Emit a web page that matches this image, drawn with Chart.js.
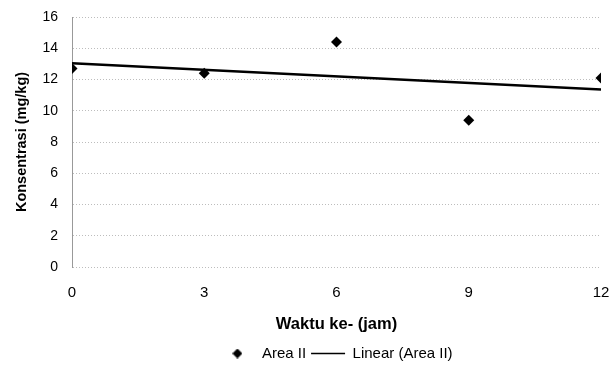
<!DOCTYPE html>
<html>
<head>
<meta charset="utf-8">
<script src="https://cdn.jsdelivr.net/npm/chart.js@4/dist/chart.umd.min.js"></script>
<style>
  html, body { margin: 0; padding: 0; background: #fff; }
  #wrap { width: 614px; height: 377px; }
</style>
</head>
<body>
<div id="wrap"><canvas id="grafik"></canvas></div>
<script>
// data pengamatan Area II
const waktu = [0, 3, 6, 9, 12];
const konsentrasi = [12.7, 12.4, 14.4, 9.4, 12.1];
// garis linear (titik awal dan akhir)
const trendX = [0, 12];
const trendY = [13.04, 11.36];
const xTicks = [0, 3, 6, 9, 12];
const yTicks = [0, 2, 4, 6, 8, 10, 12, 14, 16];

const fontFam = "'Liberation Sans', Arial, sans-serif";
const judulY = "Konsentrasi (mg/kg)";

// ikon belah ketupat untuk legenda
function ikonDiamond() {
    const c = document.createElement("canvas");
    c.width = 10; c.height = 10;
    const g = c.getContext("2d");
    g.fillStyle = "#000";
    g.beginPath();
    g.moveTo(5, 0); g.lineTo(10, 5); g.lineTo(5, 10); g.lineTo(0, 5);
    g.closePath();
    g.fill();
    return c;
}

// judul sumbu Y ditulis tegak, di tengah area grafik
const judulSumbuY = {
    id: "judulSumbuY",
    afterDraw: function(chart) {
        const area = chart.chartArea;
        const c = chart.ctx;
        c.save();
        c.translate(22, (area.top + area.bottom) / 2);
        c.rotate(-Math.PI / 2);
        c.font = "bold 14.5px " + fontFam;
        c.fillStyle = "#000";
        c.textAlign = "center";
        c.textBaseline = "middle";
        c.fillText(judulY, 0, 0);
        c.restore();
    }
};

const ctx = document.querySelector("#grafik");
new Chart(ctx, {
    type: "scatter",
    data: {
        datasets: [{
            label: "Area II",
            data: waktu.map((x, i) => ({ x: x, y: konsentrasi[i] })),
            pointStyle: "rectRot",
            pointRadius: 5.5,
            pointHoverRadius: 5.5,
            backgroundColor: "#000",
            borderColor: "#000",
            borderWidth: 0,
            order: 0
        }, {
            type: "line",
            label: "Linear (Area II)",
            data: trendX.map((x, i) => ({ x: x, y: trendY[i] })),
            borderColor: "#000",
            borderWidth: 2.5,
            pointRadius: 0,
            pointStyle: "line",
            fill: false,
            order: 1
        }]
    },
    options: {
        responsive: true,
        maintainAspectRatio: false,
        animation: false,
        layout: { padding: { left: 0, right: 0, top: 17, bottom: 6 } },
        plugins: {
            tooltip: { enabled: false },
            legend: {
                position: "bottom",
                fullSize: false,
                labels: {
                    usePointStyle: true,
                    pointStyleWidth: 34,
                    padding: 5,
                    color: "#000",
                    font: { family: fontFam, size: 15 },
                    generateLabels: function(chart) {
                        const items = Chart.defaults.plugins.legend.labels.generateLabels(chart);
                        items[0].pointStyle = ikonDiamond();
                        items[1].pointStyle = "line";
                        items[1].lineWidth = 1.5;
                        items[1].strokeStyle = "#000";
                        return items;
                    }
                }
            }
        },
        scales: {
            x: {
                type: "linear",
                min: 0,
                max: 12,
                afterBuildTicks: function(scale) {
                    scale.ticks = xTicks.map(v => ({ value: v }));
                },
                afterFit: function(scale) {
                    scale.height = 74;
                    scale.paddingLeft = 0;
                    scale.paddingRight = 13;
                },
                grid: { display: false, drawTicks: false },
                border: { display: false },
                ticks: {
                    padding: 17,
                    color: "#000",
                    font: { family: fontFam, size: 15 }
                },
                title: {
                    display: true,
                    text: "Waktu ke- (jam)",
                    color: "#000",
                    padding: { top: 4, bottom: 7 },
                    font: { family: fontFam, size: 16.5, weight: "bold" }
                }
            },
            y: {
                min: 0,
                max: 16,
                afterBuildTicks: function(scale) {
                    scale.ticks = yTicks.map(v => ({ value: v }));
                },
                afterFit: function(scale) {
                    scale.width = 72;
                    scale.paddingTop = 0;
                    scale.paddingBottom = 0;
                },
                grid: {
                    color: "#bdbdbd",
                    lineWidth: 1,
                    drawTicks: false,
                    borderDash: [2, 5]
                },
                border: { display: true, color: "#999", dash: [1, 2], width: 1 },
                ticks: {
                    padding: 14,
                    color: "#000",
                    font: { family: fontFam, size: 14 }
                },
                title: { display: false }
            }
        }
    },
    plugins: [judulSumbuY]
});
</script>
</body>
</html>
